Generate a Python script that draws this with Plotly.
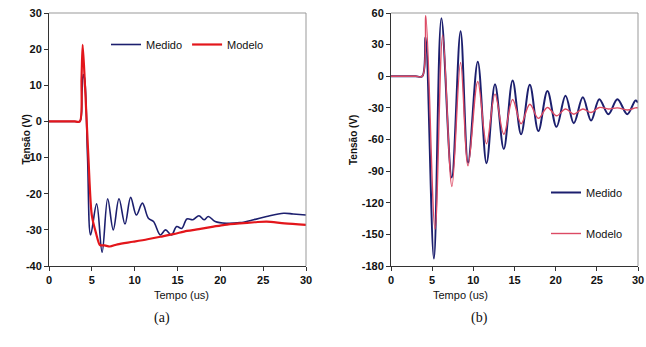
import plotly.graph_objects as go

# ---- (a) data ----
a_med_t = [0, 1, 2, 3, 3.6, 3.85, 4.0, 4.15, 4.5, 4.86, 5.56, 6.2, 6.85, 7.5, 8.17, 8.87, 9.53,
           10.2, 10.9, 11.6, 12.2, 13.0, 13.6, 14.3, 14.9, 15.5, 16.1, 16.8, 17.5, 18.1, 18.6,
           19.4, 20.7, 22.3, 23.9, 25.4, 27.4, 28.5, 30]
a_med_v = [0, 0, 0, 0, 0, 8, 13, 12, -10, -31.4, -22.8, -36.2, -21.4, -30, -21.4, -28.4, -21,
           -25.9, -22.6, -26.8, -27.7, -31.4, -30, -31.4, -29.1, -29.6, -27, -27.2, -26.1, -27.2, -26.3,
           -27.7, -28.2, -28, -27.2, -26.3, -25.4, -25.6, -25.9]
a_mod_t = [0, 1, 2, 3, 3.6, 3.8, 3.93, 4.2, 4.6, 5.0, 5.5, 5.95, 6.5, 7.1, 8.0, 9.8, 11.5, 13, 14.5,
           16.1, 17.5, 19.2, 20.5, 22.3, 24, 25.4, 27.5, 30]
a_mod_v = [0, 0, 0, 0, 0, 12, 21.2, 10, -10, -26, -31, -34.2, -34.3, -34.6, -34, -33.3, -32.6, -31.9, -31.2,
           -30.3, -29.8, -29.1, -28.6, -28.2, -27.9, -27.7, -28.2, -28.6]

# ---- (b) data ----
b_med_t = [0, 1, 2, 3, 3.8, 4.2, 5.21, 6.12, 7.38, 8.45, 9.36, 10.54, 11.6, 12.63, 13.7, 14.77, 15.8,
           16.86, 17.9, 19.0, 20.1, 21.2, 22.2, 23.3, 24.3, 25.3, 26.4, 27.5, 28.7, 29.7, 30]
b_med_v = [0, 0, 0, 0, 0, 37, -173, 55, -96, 42.6, -82, 13.8, -82.5, -7.5, -69, -4, -55,
           -8, -52, -14, -48, -18.5, -44.5, -20, -42, -21.7, -36, -21.7, -36, -23, -25]
b_mod_t = [0, 1, 2, 3, 3.8, 4.23, 5.35, 6.28, 7.4, 8.45, 9.36, 10.54, 11.6, 12.63, 13.7, 14.77, 15.8,
           16.86, 17.9, 19.0, 20.1, 21.2, 22.2, 23.3, 24.3, 25.3, 26.4, 27.5, 28.7, 29.7, 30]
b_mod_v = [0, 0, 0, 0, 0, 57.5, -145, 39, -104.6, 13, -85, -5, -64, -17, -55, -22, -45,
           -26.5, -40, -29.6, -37.5, -31, -36, -31, -34.4, -29.6, -31, -30, -32, -30, -30]

x_ticks = [0, 5, 10, 15, 20, 25, 30]
a_y_ticks = [-40, -30, -20, -10, 0, 10, 20, 30]
b_y_ticks = [-180, -150, -120, -90, -60, -30, 0, 30, 60]

NAVY = "#1c1f6e"
RED_A = "#e3161b"
RED_B = "#dc4a64"
W, H = 646, 347
TICKFONT = dict(family="Liberation Sans", size=11, color="#111", weight=700)

fig = go.Figure()
fig.add_trace(go.Scatter(x=a_med_t, y=a_med_v, mode="lines", name="Medido", line=dict(color=NAVY, width=1.6, shape="spline", smoothing=1.0), xaxis="x", yaxis="y", legend="legend"))
fig.add_trace(go.Scatter(x=a_mod_t, y=a_mod_v, mode="lines", name="Modelo", line=dict(color=RED_A, width=2.2, shape="spline", smoothing=0.8), xaxis="x", yaxis="y", legend="legend"))
fig.add_trace(go.Scatter(x=b_med_t, y=b_med_v, mode="lines", name="Medido", line=dict(color=NAVY, width=2, shape="spline", smoothing=1.0), xaxis="x2", yaxis="y2", legend="legend2", legendgroup="g1"))
fig.add_trace(go.Scatter(x=b_mod_t, y=b_mod_v, mode="lines", name="Modelo", line=dict(color=RED_B, width=1.4, shape="spline", smoothing=1.0), xaxis="x2", yaxis="y2", legend="legend2", legendgroup="g2"))

ydom = [(H - 266) / H, (H - 13) / H]
ax_common = dict(showgrid=False, zeroline=False, showline=True, linecolor="#333", linewidth=1,
                 ticks="outside", ticklen=4, tickcolor="#333", tickfont=TICKFONT, automargin=False,
                 ticklabeloverflow="allow")
fig.update_layout(
    width=W, height=H, margin=dict(l=0, r=0, t=0, b=0, autoexpand=False),
    paper_bgcolor="white", plot_bgcolor="white",
    xaxis=dict(domain=[49 / W, 306 / W], range=[0, 30], tickvals=x_ticks, ticktext=[str(v) for v in x_ticks], anchor="y", **ax_common),
    yaxis=dict(domain=ydom, range=[-40, 30], tickvals=a_y_ticks, ticktext=[str(v) for v in a_y_ticks], anchor="x", **ax_common),
    xaxis2=dict(domain=[391 / W, 638 / W], range=[0, 30], tickvals=x_ticks, ticktext=[str(v) for v in x_ticks], anchor="y2", **ax_common),
    yaxis2=dict(domain=ydom, range=[-180, 60], tickvals=b_y_ticks, ticktext=[str(v) for v in b_y_ticks], anchor="x2", **ax_common),
    legend=dict(x=106 / W, y=1 - 30 / H, xanchor="left", yanchor="top", orientation="h",
                font=dict(family="Liberation Sans", size=11, color="#111"),
                bgcolor="rgba(0,0,0,0)", itemwidth=30, tracegroupgap=0),
    legend2=dict(x=546 / W, y=1 - 178 / H, xanchor="left", yanchor="top", orientation="v",
                 font=dict(family="Liberation Sans", size=11, color="#111"),
                 bgcolor="rgba(0,0,0,0)", itemwidth=30, tracegroupgap=22),
    showlegend=True,
)
# top/right light border of each plot area
for xr, yr in (("x domain", "y domain"), ("x2 domain", "y2 domain")):
    fig.add_shape(type="line", xref=xr, yref=yr, x0=0, x1=1, y0=1, y1=1, line=dict(color="#999", width=1))
    fig.add_shape(type="line", xref=xr, yref=yr, x0=1, x1=1, y0=0, y1=1, line=dict(color="#999", width=1))

TITLEFONT = dict(family="Liberation Sans", size=11, color="#111")
YTFONT = dict(family="Liberation Sans", size=10, color="#111", weight=700)
for xc, ytx, lab in ((152, 18, "(a)"), (490, 353, "(b)")):
    fig.add_annotation(text="Tempo (us)", x=xc / W, y=1 - 303 / H, xref="paper", yref="paper", showarrow=False, font=TITLEFONT)
    fig.add_annotation(text=lab, x=xc / W, y=1 - 328 / H, xref="paper", yref="paper", showarrow=False,
                       font=dict(family="Liberation Serif", size=14, color="#111"))
    fig.add_annotation(text="Tensão (V)", x=ytx / W, y=1 - 140 / H, xref="paper", yref="paper", showarrow=False,
                       textangle=-90, font=YTFONT)

fig.write_html("out.html", config={"displayModeBar": False},
               post_script="document.body.style.margin='0';document.body.style.overflow='hidden';")
